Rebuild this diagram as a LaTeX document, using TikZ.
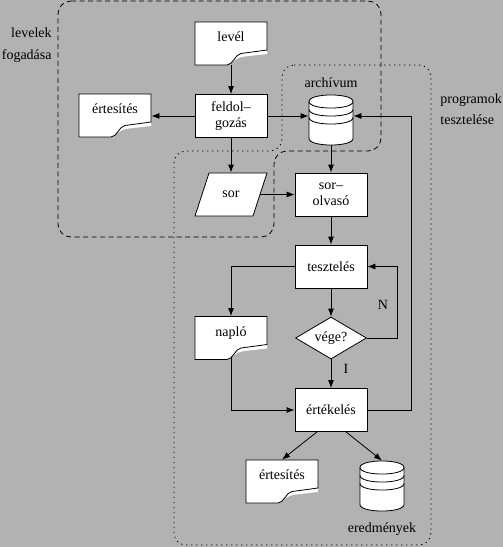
\documentclass[tikz,border=0pt]{standalone}
\usepackage{fontspec}
\setmainfont{Liberation Serif}
\usetikzlibrary{arrows.meta,shapes.geometric,calc}
\definecolor{bgc}{gray}{0.70}
\newcommand\mydocshape[2]{%
  \begin{scope}[shift={(#1,#2)}]
    \fill[white] (0,0) -- (72,0) -- (72,32) -- (50,34.5) .. controls (45,35) and (42,36.5) .. (40,38) -- (32,43) -- (0,43) -- cycle;
    \draw[shapeline] (0,0) -- (72,0) -- (72,28) -- (46,31.5) .. controls (40,32.3) and (38,43) .. (32,43) -- (0,43) -- cycle;
  \end{scope}}
\newcommand\mycylshape[2]{%
  \begin{scope}[shift={(#1,#2)}]
    \filldraw[shapeline,fill=white] (-22,6.5) -- (-22,43.5) .. controls (-22,52.2) and (22,52.2) .. (22,43.5) -- (22,6.5) .. controls (22,-2.2) and (-22,-2.2) .. cycle;
    \draw[shapeline] (-22,6.5) .. controls (-22,15.2) and (22,15.2) .. (22,6.5);
    \draw[shapeline] (-22,14.5) .. controls (-22,23.2) and (22,23.2) .. (22,14.5);
    \draw[shapeline] (-22,22.5) .. controls (-22,31.2) and (22,31.2) .. (22,22.5);
  \end{scope}}
\begin{document}
\begin{tikzpicture}[x=1pt,y=-1pt,line width=0.8pt,
  font=\fontsize{14}{16}\selectfont,
  shapeline/.style={line width=0.8pt},
  flowarrow/.style={line width=0.8pt,-{Latex[length=8pt,width=6pt]}},
  box/.style={draw,fill=white,minimum width=72pt,minimum height=43pt,inner sep=0pt,align=center},
  holder/.style={minimum width=72pt,minimum height=43pt,inner sep=0pt},
  cylholder/.style={minimum width=44pt,minimum height=50pt,inner sep=0pt},
  plainlabel/.style={inner sep=0pt},
  regiona/.style={line width=0.8pt,dash pattern=on 5pt off 3.5pt,rounded corners=13pt},
  regionb/.style={line width=0.8pt,dash pattern=on 1.3pt off 3.7pt,rounded corners=12pt}]
\fill[bgc] (0,0) rectangle (503,547);
\useasboundingbox (0,0) rectangle (503,547);

% regions
\draw[regiona] (58,1) -- (381,1) -- (381,151) -- (274,151) -- (274,237) -- (58,237) -- cycle;
\draw[regionb] (282,65) -- (431,65) -- (431,545) -- (174,545) -- (174,151) -- (282,151) -- cycle;

% region labels
\node[plainlabel,anchor=base east] (lab1) at (52,37.5) {levelek};
\node[plainlabel,anchor=base east] (lab2) at (52,59.5) {fogadása};
\node[plainlabel,anchor=base west] (lab3) at (440,103) {programok};
\node[plainlabel,anchor=base west] (lab4) at (440,124) {tesztelése};

% drawn shapes
\mydocshape{195}{22}
\mydocshape{79}{94}
\mydocshape{195}{316.5}
\mydocshape{246}{460}
\mycylshape{331}{95}
\mycylshape{382}{461}
\filldraw[shapeline,fill=white] (209,173) -- (267,173) -- (253,216) -- (195,216) -- cycle;

% nodes
\node[holder] (level) at (231,43.5) {};
\node[plainlabel,anchor=base] (levelt) at (231,41.5) {levél};
\node[holder] (ert1) at (115,115.5) {};
\node[plainlabel,anchor=base] (ert1t) at (115,113.5) {értesítés};
\node[holder] (naplo) at (231,338) {};
\node[plainlabel,anchor=base] (naplot) at (231,336) {napló};
\node[holder] (ert2) at (282,481.5) {};
\node[plainlabel,anchor=base] (ert2t) at (282,479.5) {értesítés};
\node[cylholder] (arch) at (331,120) {};
\node[plainlabel,anchor=base] (archt) at (331,87) {archívum};
\node[cylholder] (ered) at (382,486) {};
\node[plainlabel,anchor=base] (eredt) at (382,532) {eredmények};
\node[minimum width=58pt,minimum height=43pt,inner sep=0pt] (sor) at (231,194.5) {sor};

\node[box] (feld) at (231,116) {feldol--\\gozás};
\node[box] (sorolv) at (331,194.5) {sor--\\olvasó};
\node[box] (teszt) at (331,266.5) {tesztelés};
\node[diamond,draw,fill=white,minimum width=71pt,minimum height=42pt,inner sep=1pt,aspect=1.7] (vege) at (331,338) {vége?};
\node[box] (ertek) at (331,410) {értékelés};

\node[plainlabel,anchor=base] (nlab) at (383,309) {N};
\node[plainlabel,anchor=base] (ilab) at (346,373) {I};

% connectors
\draw[flowarrow] (level.south) -- (feld.north);
\draw[flowarrow] (feld.west) -- (feld.west -| ert1.east);
\draw[flowarrow] (feld.east) -- (feld.east -| arch.west);
\draw[flowarrow] (feld.south) -- (sor.north);
\draw[flowarrow] (sor.east) -- (sorolv.west);
\draw[flowarrow] (arch.south) -- (sorolv.north);
\draw[flowarrow] (sorolv.south) -- (teszt.north);
\draw[flowarrow] (teszt.west) -| (naplo.north);
\draw[flowarrow] (teszt.south) -- (vege.north);
\draw[flowarrow] (vege.east) -- ++(30,0) |- (teszt.east);
\draw[flowarrow] (vege.south) -- (ertek.north);
\draw[flowarrow] ([yshift=3pt]naplo.south) |- (ertek.west);
\coordinate (rt) at (411,116);
\draw[flowarrow] (ertek.east) -| (rt) -- (rt -| arch.east);
\draw[flowarrow] ([xshift=-14pt]ertek.south) -- (ert2.north);
\draw[flowarrow] ([xshift=15pt]ertek.south) -- (ered.north);
\end{tikzpicture}
\end{document}
